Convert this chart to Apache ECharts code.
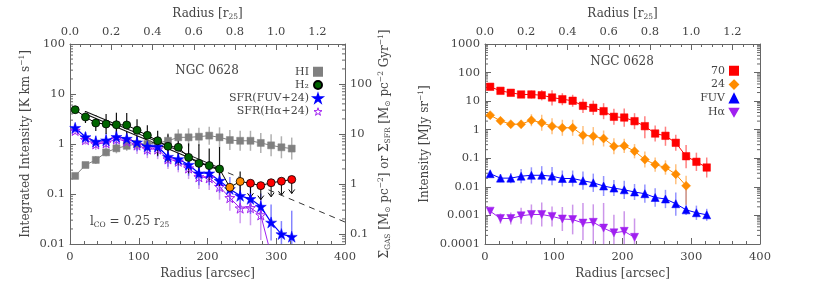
<!DOCTYPE html>
<html><head><meta charset="utf-8">
<script src="https://cdn.jsdelivr.net/npm/echarts@6/dist/echarts.min.js"></script>
<style>html,body{margin:0;padding:0;background:#fff}#c{width:830px;height:288px}</style>
</head><body><div id="c"></div>
<script>
// ---------------- data ----------------
const R25 = 300; // arcsec per r25
const radius = [7.5,22.5,37.5,52.5,67.5,82.5,97.5,112.5,127.5,142.5,157.5,172.5,187.5,202.5,217.5,232.5,247.5,262.5,277.5,292.5,307.5,322.5];
// left panel: integrated intensities [K km/s]
const HI   = [0.23,0.38,0.48,0.68,0.82,0.92,1.0,1.0,1.05,1.16,1.36,1.36,1.40,1.47,1.36,1.20,1.16,1.16,1.05,0.94,0.86,0.81];
const HI_err = [0.05,0.06,0.08,0.08,0.1,0.1,0.12,0.12,0.14,0.15,0.16,0.18,0.18,0.18,0.2,0.2,0.2,0.2,0.2,0.22,0.22,0.22]; // dex
const H2   = [4.85,3.47,2.63,2.51,2.43,2.40,1.88,1.49,1.16,0.90,0.86,0.54,0.41,0.37,0.316,0.136,0.178,0.164,0.147,0.168,0.18,0.195];
const H2_kind = ['d','d','d','d','d','d','d','d','d','d','d','d','d','d','d','o','o','u','u','u','u','u'];
const H2_up = [0.06,0.12,0.16,0.2,0.24,0.24,0.22,0.2,0.2,0.24,0.26,0.28,0.38,0.34,0.44,0,0.2,0,0,0,0,0];
const H2_dn = [0.06,0.12,0.16,0.2,0.26,0.3,0.32,0.3,0.3,0.32,0.36,0.32,0.28,0.32,0.34,0,0.24,0,0,0,0,0];
const SFR_FUV = [2.11,1.38,1.12,1.19,1.39,1.28,1.08,0.90,0.89,0.557,0.50,0.385,0.26,0.26,0.185,0.126,0.092,0.08,0.056,0.027,0.0158,0.014];
const SFR_FUV_up = [0.08,0.1,0.12,0.14,0.16,0.16,0.18,0.18,0.2,0.2,0.22,0.22,0.24,0.24,0.24,0.24,0.28,0.3,0.26,0.36,0.26,0.52];
const SFR_FUV_dn = [0.08,0.1,0.12,0.14,0.16,0.16,0.18,0.18,0.2,0.2,0.22,0.22,0.24,0.24,0.24,0.24,0.28,0.3,0.26,0.36,0.5,0.5];
const SFR_HA = [1.86,1.22,1.0,1.05,1.26,1.14,0.95,0.79,0.79,0.50,0.45,0.33,0.22,0.21,0.14,0.084,0.052,0.053,0.038,0.006,null,null];
const SFR_HA_up = [0.08,0.1,0.12,0.14,0.16,0.16,0.18,0.18,0.2,0.2,0.22,0.22,0.24,0.24,0.26,0.26,0.3,0.3,0.3,0,0,0];
const SFR_HA_dn = [0.08,0.1,0.12,0.14,0.16,0.16,0.18,0.18,0.2,0.2,0.22,0.22,0.24,0.24,0.26,0.26,0.3,0.35,0.5,0,0,0];
// exponential CO fit (l_CO = 0.25 r25), read endpoints
const FIT_SOLID  = [[22,4.25],[215,0.324]];
const FIT_DASHED = [[215,0.324],[400,0.0275]];
const SIGMA_PER_K = 6.3; // right-axis conversion
const Y1_MIN = 0.01, Y1_MAX = 100;
// right panel: intensities [MJy/sr]
const I70 = [31.8,23.0,19.6,17.1,17.1,16.1,13.4,11.7,10.3,6.87,5.85,4.45,2.83,2.67,1.99,1.33,0.736,0.612,0.348,0.118,0.0753,0.0475];
const I70_up = [0.1,0.1,0.1,0.1,0.14,0.18,0.25,0.21,0.21,0.25,0.25,0.28,0.28,0.32,0.28,0.35,0.28,0.32,0.28,0.39,0.32,0.35];
const I70_dn = [0.1,0.1,0.1,0.1,0.14,0.18,0.28,0.21,0.21,0.25,0.25,0.28,0.28,0.32,0.28,0.42,0.28,0.35,0.28,0.42,0.32,0.35];
const I24 = [3.22,2.05,1.56,1.56,2.15,1.75,1.33,1.17,1.17,0.643,0.593,0.492,0.265,0.273,0.177,0.0906,0.0605,0.0475,0.0277,0.0109];
const I24_up = [0.1,0.1,0.1,0.14,0.21,0.28,0.28,0.28,0.28,0.32,0.32,0.28,0.28,0.25,0.25,0.28,0.25,0.25,0.35,0.35];
const I24_dn = [0.1,0.1,0.1,0.14,0.21,0.28,0.28,0.28,0.28,0.32,0.32,0.28,0.28,0.25,0.25,0.28,0.25,0.25,0.35,0.66];
const IFUV = [0.0288,0.0202,0.0202,0.0236,0.0254,0.0254,0.0236,0.0196,0.0196,0.0164,0.0139,0.0107,0.00904,0.00789,0.0066,0.00575,0.00424,0.00376,0.00257,0.00157,0.00124,0.00105];
const IFUV_up = [0.1,0.14,0.18,0.25,0.28,0.32,0.32,0.28,0.28,0.32,0.32,0.35,0.28,0.32,0.28,0.32,0.32,0.32,0.39,0.74,0.25,0.21];
const IFUV_dn = [0.1,0.14,0.18,0.25,0.28,0.32,0.32,0.28,0.28,0.32,0.32,0.35,0.28,0.32,0.28,0.32,0.32,0.32,0.42,0.18,0.25,0.21];
const IHA = [0.00141,0.00078,0.00078,0.00097,0.00108,0.00108,0.000925,0.00075,0.00072,0.00054,0.000574,0.00036,0.000246,0.000278,0.000171];
const IHA_up = [0.1,0.18,0.21,0.28,0.35,0.42,0.35,0.42,0.52,0.7,0.63,0.88,0.63,0.7,0.66];
const IHA_dn = [0.1,0.18,0.21,0.28,0.35,0.42,0.35,0.42,0.52,0.6,0.77,0.7,0.7,0.7,0.7];
const Y2_MIN = 0.0001, Y2_MAX = 1000;
const X_TICKS = [0,100,200,300,400];

// ---------------- style ----------------
const FONT = 'DejaVu Serif';
const TXT = '#444', FR = '#666';
const GRAY = '#808080', GREEN = '#006400', ORANGE = '#ff8c00', RED = '#ff0000', BLUE = '#0000ff', PURPLE = '#a020f0';
const STAR = 'path://M50,0 L61.2,34.5 L97.6,34.5 L68.2,55.9 L79.4,90.5 L50,69.1 L20.6,90.5 L31.8,55.9 L2.4,34.5 L38.8,34.5 Z';
const DTRI = 'path://M0,0 L10,0 L5,8.7 Z';
const H2_COL = {d: GREEN, o: ORANGE, u: RED};

function pts(vals){ const o=[]; vals.forEach((v,i)=>{ if(v!=null) o.push([radius[i], v]); }); return o; }
function fmtLog(v){ const l=Math.log10(v); if(Math.abs(l-Math.round(l))>1e-6) return ''; const p=Math.round(l); return p>=0 ? String(Math.pow(10,p)) : '0.'+'0'.repeat(-p-1)+'1'; }
const nameStyle = {color:TXT, fontFamily:FONT, fontSize:12,
  rich:{m:{fontFamily:FONT,fontSize:12,color:TXT,lineHeight:15}, s:{fontFamily:FONT,fontSize:7.5,color:TXT,verticalAlign:'bottom',lineHeight:15}, p:{fontFamily:FONT,fontSize:7.5,color:TXT,verticalAlign:'top',lineHeight:15}}};
const lbl = {color:TXT, fontFamily:FONT, fontSize:11.5};
const tick = {show:true, inside:true, length:6, lineStyle:{color:FR}};
const aline = {show:true, onZero:false, lineStyle:{color:FR, width:1}};

function xBottom(gi){ return {type:'value', gridIndex:gi, position:'bottom', min:X_TICKS[0], max:X_TICKS[X_TICKS.length-1], interval:100,
  axisLine:aline, axisTick:tick, minorTick:{show:true, splitNumber:5, length:3, lineStyle:{color:FR}}, splitLine:{show:false},
  axisLabel:Object.assign({margin:7}, lbl), name:'Radius [arcsec]', nameLocation:'middle', nameGap:20, nameTextStyle:{color:TXT,fontFamily:FONT,fontSize:12}}; }
function xTop(gi){ return {type:'value', gridIndex:gi, position:'top', min:0, max:X_TICKS[X_TICKS.length-1]/R25, interval:0.2,
  axisLine:aline, axisTick:tick, minorTick:{show:true, splitNumber:4, length:3, lineStyle:{color:FR}}, splitLine:{show:false},
  axisLabel:Object.assign({margin:6, formatter:v=>Math.abs(v/0.2-Math.round(v/0.2))<1e-6 ? v.toFixed(1) : ''}, lbl),
  name:'{m|Radius [r}{s|25}{m|]}', nameLocation:'middle', nameGap:16, nameTextStyle:nameStyle}; }
function yLog(gi, pos, mn, mx, name, gap, showLbl){ return {type:'log', logBase:10, gridIndex:gi, position:pos, min:mn, max:mx,
  axisLine:aline, axisTick:tick, minorTick:{show:false}, splitLine:{show:false},
  axisLabel:Object.assign({show:showLbl, margin:5, formatter:fmtLog}, lbl),
  name:name, nameLocation:'middle', nameGap:gap, nameRotate:90, nameTextStyle:nameStyle}; }

function logMinor(lo, hi){ const out=[]; for(let d=Math.floor(Math.log10(lo))-1; d<=Math.ceil(Math.log10(hi)); d++){ for(let m=2;m<=9;m++){ const v=m*Math.pow(10,d); if(v>lo*1.0001 && v<hi*0.9999) out.push([0,v]); } } return out; }
function minorSeries(xi, yi, lo, hi, left, right){ return {type:'custom', xAxisIndex:xi, yAxisIndex:yi, silent:true, z:1, data:logMinor(lo,hi),
  renderItem:(params, api)=>{ const cs=params.coordSys; const y=api.coord([0, api.value(1)])[1]; const ch=[];
    if(left) ch.push({type:'line', shape:{x1:cs.x,y1:y,x2:cs.x+3,y2:y}, style:{stroke:FR,lineWidth:1}});
    if(right) ch.push({type:'line', shape:{x1:cs.x+cs.width-3,y1:y,x2:cs.x+cs.width,y2:y}, style:{stroke:FR,lineWidth:1}});
    return {type:'group', children:ch}; }}; }
function errSeries(xi, yi, vals, up, dn, color, width){ const data=[];
  vals.forEach((v,i)=>{ if(v==null || (!up[i] && !dn[i])) return; data.push([radius[i], v/Math.pow(10,dn[i]), v*Math.pow(10,up[i])]); });
  return {type:'custom', xAxisIndex:xi, yAxisIndex:yi, silent:true, z:2, data, encode:{x:0, y:[1,2]},
    renderItem:(params, api)=>{ const cs=params.coordSys; const a=api.coord([api.value(0), api.value(1)]); const b=api.coord([api.value(0), api.value(2)]);
      const cl=y=>Math.min(Math.max(y, cs.y), cs.y+cs.height);
      return {type:'line', shape:{x1:a[0], y1:cl(a[1]), x2:a[0], y2:cl(b[1])}, style:{stroke:color, lineWidth:width}}; }}; }
function limitSeries(){ const data=[]; H2.forEach((v,i)=>{ if(H2_kind[i]==='u') data.push([radius[i], v]); });
  return {type:'custom', xAxisIndex:0, yAxisIndex:0, silent:true, z:3, data,
    renderItem:(params, api)=>{ const p=api.coord([api.value(0), api.value(1)]);
      return {type:'group', children:[
        {type:'line', shape:{x1:p[0], y1:p[1]+3, x2:p[0], y2:p[1]+14}, style:{stroke:'#000', lineWidth:1}},
        {type:'polyline', shape:{points:[[p[0]-3,p[1]+10],[p[0],p[1]+14],[p[0]+3,p[1]+10]]}, style:{stroke:'#000', fill:null, lineWidth:1}}]}; }}; }
function lineSeries(name, xi, yi, data, sym, size, color, lineColor, extra){ return Object.assign({type:'line', name, xAxisIndex:xi, yAxisIndex:yi, data, symbol:sym, symbolSize:size, z:4,
  itemStyle:{color, borderColor:color, borderWidth:0.5}, lineStyle:{color:lineColor, width:1}, showSymbol:true}, extra||{}); }

const option = {
  animation:false,
  textStyle:{fontFamily:FONT},
  grid:[{left:70, top:44, width:275, height:200, outerBoundsMode:'none', containLabel:false},
        {left:485, top:44, width:275, height:200, outerBoundsMode:'none', containLabel:false}],
  xAxis:[xBottom(0), xTop(0), xBottom(1), xTop(1)],
  yAxis:[
    yLog(0,'left',Y1_MIN,Y1_MAX,'{m|Integrated Intensity [K km s}{p|−1}{m|]}',37,true),
    yLog(0,'right',Y1_MIN*SIGMA_PER_K,Y1_MAX*SIGMA_PER_K,'{m|Σ}{s|GAS}{m| [M}{s|⊙}{m| pc}{p|−2}{m|] or Σ}{s|SFR}{m| [M}{s|⊙}{m| pc}{p|−2}{m| Gyr}{p|−1}{m|]}',32,true),
    yLog(1,'left',Y2_MIN,Y2_MAX,'{m|Intensity [MJy sr}{p|−1}{m|]}',53,true),
    yLog(1,'right',Y2_MIN,Y2_MAX,'',0,false)
  ],
  legend:[
    {orient:'vertical', align:'right', right:502, top:61, itemWidth:8, itemHeight:8, itemGap:2, selectedMode:false,
     textStyle:{fontFamily:FONT, fontSize:11, color:TXT, lineHeight:11.3},
     data:[{name:'HI', icon:'rect'}, {name:'H₂', icon:'circle'}, {name:'SFR(FUV+24)', icon:STAR},
           {name:'SFR(Hα+24)', icon:STAR, itemStyle:{color:'rgba(0,0,0,0)', borderColor:PURPLE, borderWidth:1}}]},
    {orient:'vertical', align:'right', right:86, top:60, itemWidth:8, itemHeight:8, itemGap:2.6, selectedMode:false,
     textStyle:{fontFamily:FONT, fontSize:11, color:TXT, lineHeight:11.3},
     data:[{name:'70', icon:'rect'}, {name:'24', icon:'diamond'}, {name:'FUV', icon:'triangle'}, {name:'Hα', icon:DTRI}]}
  ],
  graphic:[
    {type:'text', x:207, y:71, style:{text:'NGC 0628', font:'12px "DejaVu Serif"', fill:TXT, align:'center', verticalAlign:'middle', textAlign:'center', textVerticalAlign:'middle'}},
    {type:'text', x:622, y:62, style:{text:'NGC 0628', font:'12px "DejaVu Serif"', fill:TXT, align:'center', verticalAlign:'middle', textAlign:'center', textVerticalAlign:'middle'}},
    {type:'text', x:90, y:222, style:{text:'{m|l}{s|CO}{m| = 0.25 r}{s|25}', fill:TXT, verticalAlign:'middle', textVerticalAlign:'middle',
      rich:{m:{fontFamily:FONT,fontSize:12,fill:TXT,color:TXT,lineHeight:15}, s:{fontFamily:FONT,fontSize:7.5,fill:TXT,color:TXT,verticalAlign:'bottom',lineHeight:15}}}}
  ],
  series:[
    minorSeries(0,0,Y1_MIN,Y1_MAX,true,false),
    minorSeries(0,1,Y1_MIN*SIGMA_PER_K,Y1_MAX*SIGMA_PER_K,false,true),
    minorSeries(2,2,Y2_MIN,Y2_MAX,true,true),
    // left panel error bars
    errSeries(0,0,HI,HI_err,HI_err,'#b0b0b0',1.5),
    errSeries(0,0,SFR_HA,SFR_HA_up,SFR_HA_dn,'rgba(175,90,230,0.6)',1.5),
    errSeries(0,0,SFR_FUV,SFR_FUV_up,SFR_FUV_dn,'rgba(50,50,255,0.6)',1.5),
    errSeries(0,0,H2,H2_up,H2_dn,'#111',1.2),
    limitSeries(),
    // fit lines
    {type:'line', xAxisIndex:0, yAxisIndex:0, data:FIT_SOLID, symbol:'none', z:3, silent:true, lineStyle:{color:'#111', width:3.4}},
    {type:'line', xAxisIndex:0, yAxisIndex:0, data:FIT_SOLID, symbol:'none', z:3, silent:true, lineStyle:{color:'#fff', width:1.3}},
    {type:'line', xAxisIndex:0, yAxisIndex:0, data:FIT_DASHED, symbol:'none', z:3, silent:true, lineStyle:{color:'#333', width:1, type:[6,5]}},
    // left panel data
    lineSeries('HI',0,0,pts(HI),'rect',7,GRAY,GRAY),
    lineSeries('SFR(Hα+24)',0,0,pts(SFR_HA),STAR,10,PURPLE,PURPLE,{itemStyle:{color:'rgba(0,0,0,0)', borderColor:PURPLE, borderWidth:1}}),
    lineSeries('SFR(FUV+24)',0,0,pts(SFR_FUV),STAR,11,BLUE,BLUE,{lineStyle:{color:BLUE,width:1.2}}),
    {type:'line', name:'H₂', xAxisIndex:0, yAxisIndex:0, z:5, symbol:'circle', symbolSize:8,
     itemStyle:{color:GREEN, borderColor:'#000', borderWidth:0.8}, lineStyle:{color:'#000', width:1},
     data:radius.map((r,i)=>({value:[r,H2[i]], itemStyle:{color:H2_COL[H2_kind[i]]}}))},
    // right panel error bars
    errSeries(2,2,IHA,IHA_up,IHA_dn,'rgba(170,80,220,0.6)',1.5),
    errSeries(2,2,IFUV,IFUV_up,IFUV_dn,'rgba(60,60,255,0.55)',1.5),
    errSeries(2,2,I24,I24_up,I24_dn,'rgba(255,160,60,0.65)',1.5),
    errSeries(2,2,I70,I70_up,I70_dn,'rgba(255,60,60,0.65)',1.5),
    // right panel data
    lineSeries('Hα',2,2,pts(IHA),DTRI,8,PURPLE,PURPLE),
    lineSeries('FUV',2,2,pts(IFUV),'triangle',8,BLUE,BLUE),
    lineSeries('24',2,2,pts(I24),'diamond',9,ORANGE,ORANGE),
    lineSeries('70',2,2,pts(I70),'rect',7.5,RED,RED)
  ]
};
const chart = echarts.init(document.getElementById('c'));
chart.setOption(option);
</script></body></html>
